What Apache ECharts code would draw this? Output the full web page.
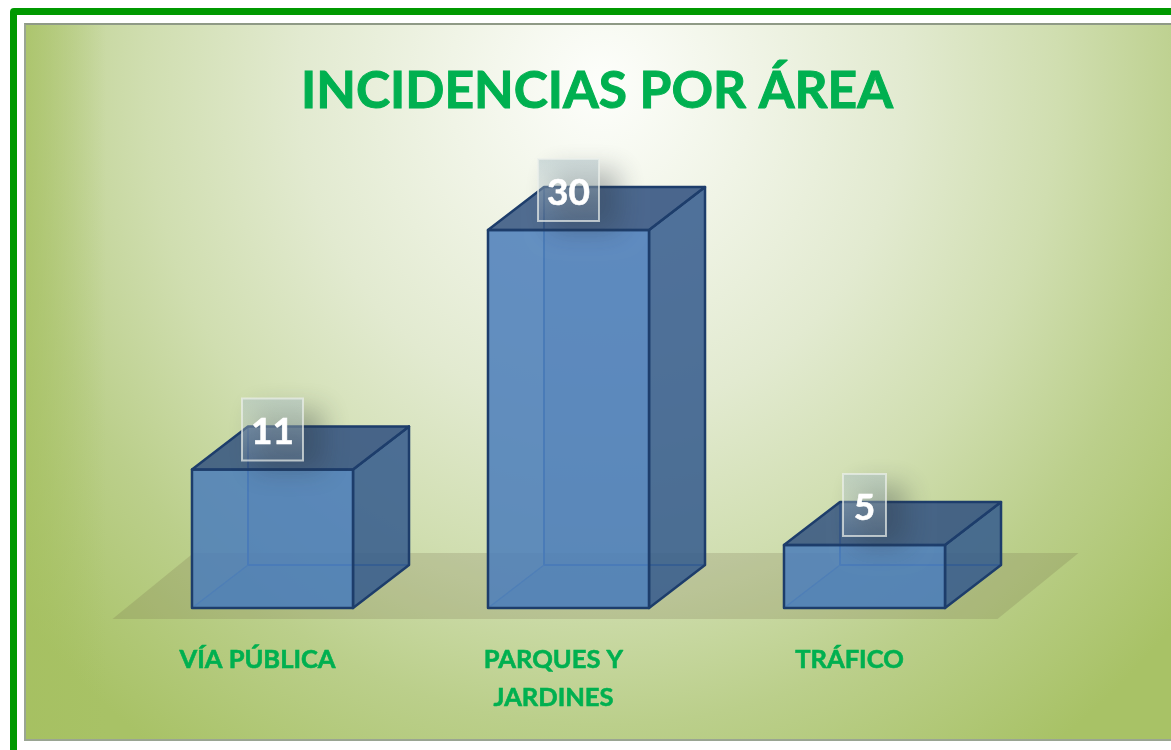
<!DOCTYPE html>
<html>
<head>
<meta charset="utf-8">
<title>Incidencias por área</title>
<script src="https://cdn.jsdelivr.net/npm/echarts@6/dist/echarts.min.js"></script>
<style>
  html, body { margin: 0; padding: 0; width: 1171px; height: 750px; overflow: hidden; background: #fff; }
  .frame { position: absolute; left: 10px; top: 8px; width: 1300px; height: 900px; border: 7px solid #009900; border-radius: 4px; box-sizing: border-box; }
  .panel {
    position: absolute; left: 24px; top: 23px; width: 1147px; height: 718px; box-sizing: border-box;
    border-top: 2px solid #8f9a86; border-left: 2px solid #9aa592; border-bottom: 2px solid #9aa592;
    background:
      linear-gradient(to right, rgba(165,192,96,0.7) 0, rgba(165,192,96,0) 80px),
      radial-gradient(ellipse 760px 820px at 576px 60px, #fdfefb 0%, #f0f4e6 20%, #e2ead0 40%, #d0deb0 60%, #bbcf8b 78%, #a8c266 100%);
  }
  #chart { position: absolute; left: 0; top: 0; width: 1171px; height: 750px; }
</style>
</head>
<body>
<div class="frame"></div>
<div class="panel"></div>
<div id="chart"></div>
<script>
const categories = ["VÍA PÚBLICA", "PARQUES Y\nJARDINES", "TRÁFICO"];
const incidencias = [11, 30, 5];

// perspectiva de las cajas
const DEPTH_X = 56;
const DEPTH_Y = 43;

const chart = echarts.init(document.getElementById("chart"), null, { renderer: "canvas" });

function poly(points, fill, stroke, lineWidth) {
  return {
    type: "polygon",
    shape: { points: points },
    style: { fill: fill, stroke: stroke, lineWidth: lineWidth, lineJoin: "round" },
  };
}

function renderFloor(params, api) {
  const base = api.coord([0, 0])[1];
  const cs = params.coordSys;
  const x0 = cs.x - 12;
  const x1 = cs.x + cs.width - 15;
  return poly(
    [
      [x0, base + 11],
      [x1, base + 11],
      [x1 + 81, base - 55],
      [x0 + 81, base - 55],
    ],
    "rgba(110,100,70,0.2)",
    null,
    0
  );
}

function renderBox(params, api) {
  const top = api.coord([api.value(0), api.value(1)]);
  const bottom = api.coord([api.value(0), 0]);
  const half = api.size([1, 0])[0] * 0.272;
  const l = top[0] - half;
  const r = top[0] + half;
  const t = top[1];
  const b = bottom[1];
  const dx = DEPTH_X;
  const dy = DEPTH_Y;
  const edge = "#1d3d6b";
  const inner = "#3f6da8";
  const text = String(api.value(1));
  const boxW = text.length > 1 ? 61 : 43;
  const cx = top[0];
  const cy = t - 40;
  return {
    type: "group",
    children: [
      // caras traseras, se ven a través
      poly([[l + dx, t - dy], [r + dx, t - dy], [r + dx, b - dy], [l + dx, b - dy]], "rgba(70,110,165,0.22)", null, 0),
      poly([[l, b], [r, b], [r + dx, b - dy], [l + dx, b - dy]], "rgba(70,110,165,0.25)", null, 0),
      { type: "line", shape: { x1: l + dx, y1: t - dy, x2: l + dx, y2: b - dy }, style: { stroke: inner, lineWidth: 2 } },
      { type: "line", shape: { x1: l + dx, y1: b - dy, x2: r + dx, y2: b - dy }, style: { stroke: inner, lineWidth: 2 } },
      { type: "line", shape: { x1: l, y1: b, x2: l + dx, y2: b - dy }, style: { stroke: inner, lineWidth: 1.5, opacity: 0.7 } },
      // caras visibles
      poly([[r, t], [r + dx, t - dy], [r + dx, b - dy], [r, b]], "rgba(52,90,140,0.82)", edge, 2.5),
      poly([[l, t], [r, t], [r, b], [l, b]], "rgba(76,126,186,0.86)", edge, 2.5),
      poly([[l, t], [l + dx, t - dy], [r + dx, t - dy], [r, t]], "rgba(52,84,128,0.86)", edge, 2.5),
      // sombra difusa de la etiqueta: el rect queda fuera del lienzo, solo se ve su sombra
      {
        type: "rect",
        shape: { x: cx - boxW / 2 + 14 - 3000, y: cy - 20, width: boxW + 6, height: 60 },
        style: {
          fill: "#000",
          shadowBlur: 26,
          shadowColor: "rgba(40,50,60,0.32)",
          shadowOffsetX: 3000,
        },
      },
      // etiqueta
      {
        type: "rect",
        shape: { x: cx - boxW / 2, y: cy - 31, width: boxW, height: 62 },
        style: {
          fill: {
            type: "linear", x: 0, y: 0, x2: 0, y2: 1,
            colorStops: [
              { offset: 0, color: "rgba(175,195,200,0.55)" },
              { offset: 1, color: "rgba(190,205,215,0.14)" },
            ],
          },
          stroke: "rgba(235,240,235,0.7)",
          lineWidth: 2,
        },
      },
      {
        type: "text",
        x: cx,
        y: cy + 3,
        style: {
          text: text,
          fill: "#fff",
          stroke: "#fff",
          lineWidth: 0.6,
          font: "bold 37px Lato",
          align: "center",
          verticalAlign: "middle",
        },
      },
    ],
  };
}

chart.setOption({
  animation: false,
  backgroundColor: "transparent",
  title: {
    text: "INCIDENCIAS POR ÁREA",
    left: 592,
    top: 60,
    textAlign: "center",
    textStyle: {
      color: "#00b050",
      fontFamily: "Lato",
      fontWeight: "bold",
      fontSize: 51.5,
      textBorderColor: "#00b050",
      textBorderWidth: 1,
    },
  },
  grid: { left: 124.5, width: 888, top: 167, height: 441 },
  xAxis: {
    type: "category",
    data: categories,
    axisLine: { show: false },
    axisTick: { show: false },
    axisLabel: {
      interval: 0,
      margin: 33,
      color: "#00b050",
      fontFamily: "Lato",
      fontWeight: "bold",
      fontSize: 25.5,
      lineHeight: 38,
      textBorderColor: "#00b050",
      textBorderWidth: 0.6,
      padding: [0, 30, 0, 0],
    },
  },
  yAxis: { type: "value", min: 0, max: 35, show: false, splitLine: { show: false } },
  series: [
    {
      name: "suelo",
      type: "custom",
      z: 1,
      silent: true,
      data: [[0, 0]],
      renderItem: renderFloor,
    },
    {
      name: "Incidencias",
      type: "custom",
      z: 2,
      data: categories.map((c, i) => [i, incidencias[i]]),
      encode: { x: 0, y: 1 },
      renderItem: renderBox,
    },
  ],
});
</script>
</body>
</html>
